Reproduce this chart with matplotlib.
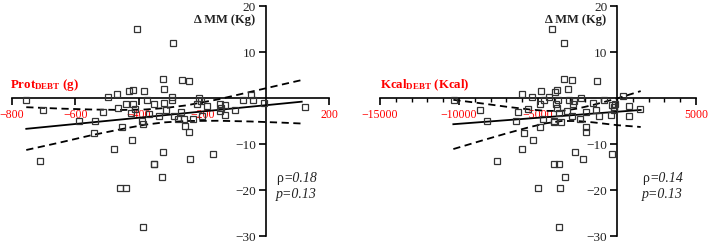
import matplotlib
matplotlib.use('Agg')
import matplotlib.pyplot as plt
from matplotlib.ticker import MultipleLocator, NullLocator

plt.rcParams['font.family'] = 'Liberation Serif'
plt.rcParams['mathtext.fontset'] = 'custom'
plt.rcParams['mathtext.rm'] = 'Liberation Serif'
plt.rcParams['mathtext.it'] = 'Liberation Serif:italic'
plt.rcParams['mathtext.bf'] = 'Liberation Serif:bold'

# Left panel: protein debt (g) vs change in muscle mass (kg)
prot_x = [-755, -703, -711, -589, -537, -542, -513, -498, -468, -465, -477, -458,
          -441, -453, -439, -432, -417, -426, -423, -418, -411, -407, -384, -386,
          -389, -386, -374, -367, -353, -351, -335, -324, -321, -323, -326, -321,
          -313, -295, -295, -292, -289, -277, -266, -263, -258, -253, -242, -241,
          -239, -229, -216, -211, -205, -200, -186, -165, -145, -142, -144, -128,
          -128, -97, -72, -45, -40, -6, 124, -353]
prot_y = [-0.5, -2.5, -13.6, -5.0, -4.9, -7.5, -3.0, 0.2, 0.9, -2.1, -11.0, -19.5,
          -19.6, -6.3, -1.2, 1.5, 1.8, -3.2, -9.2, -1.4, -2.3, 14.9, 1.6, -28.0,
          -4.9, -5.6, -0.5, -3.4, -14.4, -1.4, -3.9, 4.1, 2.0, -11.7, -17.2, -1.0,
          -2.7, 0.2, -0.4, 12.0, -4.0, -4.5, -3.0, 4.0, -4.5, -6.1, 3.6, -7.4,
          -13.2, -4.5, -1.2, 0.1, -0.7, -4.0, -1.8, -12.2, -1.4, -2.1, -2.8, -1.5,
          -3.6, -2.7, -0.5, 0.7, -0.5, -1.0, -2.0, -14.3]
prot_fit_x = [-755, 114]
prot_fit_y = [-6.7, -0.8]
prot_ci_x = [-755, -650, -550, -450, -380, -320, -250, -150, -50, 50, 114]
prot_ci_hi = [-2.0, -2.3, -2.5, -2.6, -2.5, -2.2, -1.6, -0.3, 1.3, 2.9, 3.9]
prot_ci_lo = [-11.3, -9.7, -8.1, -6.7, -5.8, -5.3, -5.0, -4.95, -5.1, -5.35, -5.55]

# Right panel: energy debt (kcal) vs change in muscle mass (kg)
kcal_x = [-10321, -8678, -8214, -7582, -6380, -6275, -6001, -6043, -5896, -5643,
          -5411, -5327, -5011, -4905, -4884, -4779, -4673, -4631, -4315, -4083,
          -3999, -3999, -3957, -3894, -3789, -3831, -3789, -3747, -3683, -3641,
          -3641, -3620, -3536, -3367, -3325, -3262, -3156, -3093, -3050, -2840,
          -2840, -2798, -2735, -2629, -2355, -2250, -2144, -1955, -1955, -1955,
          -1513, -1323, -1239, -1155, -839, -354, -291, -312, -207, -165, -144,
          385, 743, 743, 1439]
kcal_y = [-0.4, -2.5, -4.9, -13.6, -4.9, -3.0, 0.9, -11.0, -7.5, -2.3,
          0.2, -9.2, -19.6, -6.3, -1.2, 1.5, -4.5, -0.5, 0.2, 14.9,
          -4.9, -5.2, -14.4, 1.4, 1.8, -1.4, -2.1, -0.5, -28.0, -14.4,
          -3.2, -19.5, -5.2, 4.1, 12.0, -17.2, -2.8, 2.0, -0.4, 4.0,
          -4.0, -1.2, -0.7, -11.7, -4.5, 0.0, -13.2, -3.0, -6.2, -7.4,
          -1.0, -2.5, 3.6, -4.0, -0.4, -3.6, -12.2, -1.6, -2.0, -2.7, -1.4,
          0.4, -1.8, -4.0, -2.4]
kcal_fit_x = [-10358, 1500]
kcal_fit_y = [-5.7, -2.6]
kcal_ci_x = [-10358, -8500, -7000, -5500, -4500, -3500, -2500, -1500, 0, 1500]
kcal_ci_hi = [-0.4, -1.2, -1.9, -2.5, -2.8, -2.8, -2.3, -1.5, -0.1, 1.5]
kcal_ci_lo = [-11.1, -9.2, -7.7, -6.3, -5.5, -5.0, -5.0, -5.3, -5.9, -6.3]


def panel(ax, x, y, fx, fy, cx, chi, clo, xlim, xticks, minor, xlabel, rho, lx, tx):
    ax.plot(x, y, linestyle='none', marker='s', markersize=3.8,
            markerfacecolor='none', markeredgecolor='#333333',
            markeredgewidth=0.9, zorder=3)
    ax.plot(fx, fy, color='black', linewidth=1.3, zorder=2)
    ax.plot(cx, chi, color='black', linewidth=1.3, linestyle=(0, (4, 2.5)), zorder=2)
    ax.plot(cx, clo, color='black', linewidth=1.3, linestyle=(0, (4, 2.5)), zorder=2)

    ax.set_xlim(*xlim)
    ax.set_ylim(-30, 20)
    for s in ['top', 'right']:
        ax.spines[s].set_visible(False)
    ax.spines['left'].set_position(('data', 0))
    ax.spines['bottom'].set_position(('data', 0))
    for s in ['left', 'bottom']:
        ax.spines[s].set_linewidth(1.2)
        ax.spines[s].set_zorder(1)
    ax.patch.set_visible(False)

    ax.set_xticks(xticks)
    ax.set_yticks([-30, -20, -10, 10, 20])
    if minor:
        ax.xaxis.set_minor_locator(MultipleLocator(minor))
    else:
        ax.xaxis.set_minor_locator(NullLocator())
    ax.tick_params(axis='x', which='major', direction='out', length=5, width=1.2,
                   labelsize=8.5, labelcolor='red', pad=3)
    ax.tick_params(axis='x', which='minor', direction='out', length=3, width=1.0)
    ax.tick_params(axis='y', direction='out', length=5, width=1.2,
                   labelsize=9.5, labelcolor='#222222', pad=2)

    span = xlim[1] - xlim[0]
    ax.text(lx, 1.0, xlabel, color='red', fontsize=9.3, fontweight='bold',
            ha='left', va='bottom')
    ax.text(-0.033 * span, 17.0, 'Δ MM (Kg)', color='#222222',
            fontsize=9, fontweight='bold', ha='right', va='center')
    # rho stays upright, the value is italic
    ax.text(tx, -17.4, 'ρ', fontsize=10, color='#222222', ha='left', va='center')
    ax.annotate('=' + rho, xy=(tx, -17.4), xytext=(5.3, 0),
                textcoords='offset points', fontsize=10, style='italic',
                color='#222222', ha='left', va='center')
    ax.text(tx, -20.9, 'p=0.13', fontsize=10, style='italic',
            color='#222222', ha='left', va='center')


fig = plt.figure(figsize=(7.08, 2.43), dpi=100)
ax1 = fig.add_axes([12 / 708, 7 / 243, 317 / 708, 230 / 243])
ax2 = fig.add_axes([380 / 708, 7 / 243, 316 / 708, 230 / 243])

panel(ax1, prot_x, prot_y, prot_fit_x, prot_fit_y, prot_ci_x, prot_ci_hi, prot_ci_lo,
      (-800, 200), [-800, -600, -400, -200, 200], None,
      r'Prot$_{\mathbf{DEBT}}$ (g)', '0.18', -806, 32)
panel(ax2, kcal_x, kcal_y, kcal_fit_x, kcal_fit_y, kcal_ci_x, kcal_ci_hi, kcal_ci_lo,
      (-15000, 5000), [-15000, -10000, -5000, 5000], 1000,
      r'Kcal$_{\mathbf{DEBT}}$ (Kcal)', '0.14', -15000, 1600)

plt.savefig('out.png', dpi=100)
plt.close()
